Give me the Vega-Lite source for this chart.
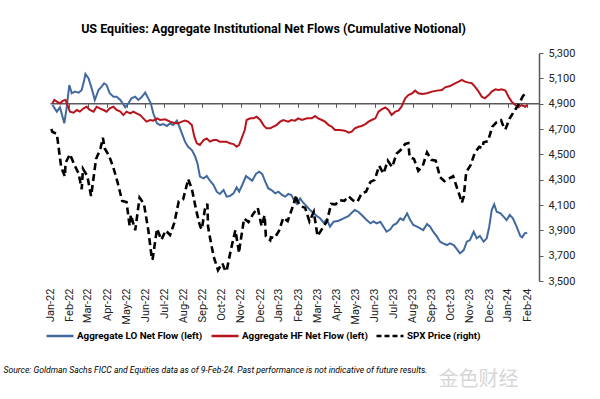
{
  "$schema": "https://vega.github.io/schema/vega-lite/v6.json",
  "width": 489,
  "height": 228,
  "autosize": {"type": "none"},
  "padding": {"left": 50, "top": 53, "right": 61, "bottom": 118},
  "background": "white",
  "config": {"view": {"stroke": null}},
  "title": {
    "text": "US Equities: Aggregate Institutional Net Flows (Cumulative Notional)",
    "font": "Roboto",
    "fontSize": 12.5,
    "fontWeight": "bold",
    "color": "#000000",
    "anchor": "middle",
    "dx": -21,
    "offset": 12
  },
  "resolve": {"scale": {"y": "independent"}, "axis": {"x": "independent", "y": "independent"}},
  "layer": [
    {
      "data": {"values": [
        {"day":4,"value":-1.1},{"day":11,"value":-6.3},{"day":16,"value":-2.9},{"day":23,"value":-15.5},{"day":27,"value":-2.4},{"day":31,"value":14.7},{"day":35,"value":8.2},{"day":40,"value":9.5},{"day":46,"value":8.7},{"day":51,"value":10.8},{"day":55,"value":18.7},{"day":57,"value":23.4},{"day":62,"value":20.0},{"day":67,"value":12.1},{"day":72,"value":2.9},{"day":78,"value":10.8},{"day":83,"value":13.4},{"day":87,"value":16.1},{"day":91,"value":14.7},{"day":96,"value":8.2},{"day":102,"value":5.5},{"day":107,"value":5.5},{"day":113,"value":2.9},{"day":116,"value":0.8},{"day":121,"value":-2.9},{"day":126,"value":0.3},{"day":131,"value":4.2},{"day":137,"value":5.5},{"day":142,"value":2.9},{"day":147,"value":5.0},{"day":153,"value":8.7},{"day":158,"value":4.2},{"day":162,"value":0.3},{"day":166,"value":-7.6},{"day":172,"value":-15.5},{"day":177,"value":-16.9},{"day":182,"value":-16.1},{"day":188,"value":-17.6},{"day":193,"value":-15.5},{"day":198,"value":-16.9},{"day":204,"value":-13.4},{"day":207,"value":-16.9},{"day":212,"value":-23.4},{"day":217,"value":-30.0},{"day":222,"value":-34.0},{"day":228,"value":-36.6},{"day":233,"value":-41.3},{"day":237,"value":-47.1},{"day":241,"value":-57.6},{"day":247,"value":-59.0},{"day":252,"value":-57.1},{"day":257,"value":-60.8},{"day":263,"value":-64.2},{"day":268,"value":-69.5},{"day":273,"value":-71.3},{"day":279,"value":-68.2},{"day":284,"value":-73.4},{"day":289,"value":-72.9},{"day":295,"value":-70.8},{"day":300,"value":-66.1},{"day":304,"value":-69.5},{"day":309,"value":-64.2},{"day":315,"value":-57.1},{"day":320,"value":-59.0},{"day":325,"value":-60.8},{"day":331,"value":-55.5},{"day":336,"value":-53.7},{"day":341,"value":-55.5},{"day":346,"value":-61.6},{"day":351,"value":-66.9},{"day":356,"value":-68.2},{"day":362,"value":-70.8},{"day":367,"value":-69.5},{"day":373,"value":-72.1},{"day":378,"value":-73.4},{"day":383,"value":-71.3},
        {"day":388,"value":-72.1},{"day":392,"value":-76.1},{"day":397,"value":-79.2},{"day":402,"value":-74.8},{"day":407,"value":-78.2},{"day":413,"value":-81.3},{"day":418,"value":-84.0},{"day":423,"value":-86.1},{"day":429,"value":-88.7},{"day":434,"value":-90.5},{"day":440,"value":-94.0},{"day":445,"value":-91.3},{"day":450,"value":-97.1},{"day":456,"value":-93.2},{"day":464,"value":-92.4},{"day":472,"value":-90.5},{"day":480,"value":-88.7},{"day":485,"value":-86.1},{"day":490,"value":-84.0},{"day":496,"value":-85.5},{"day":501,"value":-87.9},{"day":509,"value":-91.9},{"day":515,"value":-94.5},{"day":520,"value":-92.9},{"day":525,"value":-94.5},{"day":531,"value":-93.2},{"day":536,"value":-97.1},{"day":541,"value":-101.1},{"day":547,"value":-99.2},{"day":552,"value":-95.8},{"day":557,"value":-94.5},{"day":563,"value":-90.5},{"day":568,"value":-91.9},{"day":574,"value":-86.6},{"day":579,"value":-91.9},{"day":584,"value":-95.8},{"day":590,"value":-97.1},{"day":595,"value":-98.4},{"day":600,"value":-99.8},{"day":606,"value":-95.0},{"day":611,"value":-97.1},{"day":616,"value":-101.1},{"day":622,"value":-105.0},{"day":627,"value":-109.0},{"day":632,"value":-110.3},{"day":638,"value":-111.6},{"day":643,"value":-110.3},{"day":649,"value":-111.6},{"day":654,"value":-114.8},{"day":659,"value":-118.2},{"day":665,"value":-115.6},{"day":670,"value":-109.0},{"day":675,"value":-107.7},{"day":681,"value":-101.1},{"day":686,"value":-106.3},{"day":691,"value":-104.5},{"day":697,"value":-109.0},{"day":702,"value":-106.3},{"day":706,"value":-97.1},{"day":710,"value":-84.0},{"day":714,"value":-79.5},{"day":718,"value":-85.3},{"day":724,"value":-86.6},{"day":729,"value":-89.2},{"day":734,"value":-91.9},{"day":739,"value":-87.9},{"day":744,"value":-90.5},{"day":750,"value":-97.1},{"day":756,"value":-104.5},{"day":759,"value":-105.5},{"day":763,"value":-102.4},{"day":767,"value":-101.9}
      ]},
      "mark": {"type": "line", "strokeWidth": 2},
      "encoding": {
        "x": {"field": "day", "type": "quantitative", "scale": {"domain": [0, 786], "nice": false, "zero": false},
          "axis": {"orient": "top", "offset": -50.33, "values": [31,61,92,123,153,184,215,245,276,307,338,368,399,430,460,491,522,552,583,614,644,675,706,736,767], "labels": false, "domain": true, "domainColor": "#595959", "domainWidth": 1.5, "ticks": true, "tickColor": "#595959", "tickSize": -4, "tickWidth": 1, "grid": false, "title": null}},
        "y": {"field": "value", "type": "quantitative", "scale": {"domain": [-140, 40], "nice": false, "zero": false}, "axis": null},
        "color": {"datum": "Aggregate LO Net Flow (left)", "type": "nominal",
          "scale": {"domain": ["Aggregate LO Net Flow (left)", "Aggregate HF Net Flow (left)", "SPX Price (right)"], "range": ["#41699e", "#b8141c", "#000000"]},
          "legend": {"orient": "none", "legendX": -5, "legendY": 268, "direction": "horizontal", "title": null, "symbolType": "stroke", "symbolSize": 729, "symbolStrokeWidth": 2.5, "labelFont": "Roboto", "labelFontSize": 9.8, "labelFontWeight": "bold", "labelColor": "#000000", "labelOffset": 2, "columnPadding": 3, "labelLimit": 300,
            "encode": {"symbols": {"update": {"strokeDash": {"signal": "datum.value === 'SPX Price (right)' ? [5, 3] : [1, 0]"}}}}}}
      }
    },
    {
      "data": {"values": [
        {"day":4,"value":0.3},{"day":7,"value":2.9},{"day":11,"value":1.6},{"day":16,"value":0.3},{"day":21,"value":2.4},{"day":25,"value":2.9},{"day":28,"value":-1.1},{"day":32,"value":-6.3},{"day":38,"value":-7.1},{"day":43,"value":-5.0},{"day":48,"value":-6.3},{"day":54,"value":-3.7},{"day":59,"value":-2.4},{"day":64,"value":-5.0},{"day":70,"value":-6.3},{"day":75,"value":-2.4},{"day":80,"value":-3.7},{"day":86,"value":-5.0},{"day":91,"value":-6.3},{"day":96,"value":-3.7},{"day":102,"value":-2.4},{"day":107,"value":-5.0},{"day":113,"value":-6.3},{"day":118,"value":-9.0},{"day":123,"value":-6.3},{"day":129,"value":-7.6},{"day":134,"value":-6.3},{"day":139,"value":-7.6},{"day":145,"value":-9.0},{"day":150,"value":-11.6},{"day":155,"value":-14.2},{"day":161,"value":-12.9},{"day":166,"value":-13.4},{"day":172,"value":-11.6},{"day":177,"value":-12.9},{"day":185,"value":-12.4},{"day":193,"value":-14.2},{"day":201,"value":-15.5},{"day":206,"value":-15.5},{"day":212,"value":-14.2},{"day":217,"value":-13.4},{"day":222,"value":-14.2},{"day":228,"value":-16.9},{"day":232,"value":-26.1},{"day":236,"value":-31.3},{"day":241,"value":-32.6},{"day":247,"value":-28.7},{"day":252,"value":-27.4},{"day":257,"value":-30.0},{"day":263,"value":-28.7},{"day":268,"value":-28.7},{"day":273,"value":-30.0},{"day":279,"value":-30.0},{"day":284,"value":-30.0},{"day":289,"value":-31.3},{"day":295,"value":-31.9},{"day":300,"value":-34.0},{"day":304,"value":-32.6},{"day":308,"value":-27.4},{"day":313,"value":-20.8},{"day":316,"value":-12.9},{"day":322,"value":-11.6},{"day":327,"value":-11.6},{"day":332,"value":-10.3},{"day":338,"value":-12.9},{"day":343,"value":-16.9},{"day":348,"value":-19.5},{"day":354,"value":-19.5},{"day":359,"value":-18.2},{"day":364,"value":-16.9},{"day":370,"value":-14.2},{"day":375,"value":-12.9},{"day":383,"value":-14.2},
        {"day":388,"value":-12.9},{"day":394,"value":-13.4},{"day":399,"value":-11.6},{"day":405,"value":-12.9},{"day":413,"value":-11.6},{"day":421,"value":-11.6},{"day":426,"value":-9.7},{"day":431,"value":-11.6},{"day":437,"value":-12.9},{"day":442,"value":-14.2},{"day":448,"value":-16.9},{"day":453,"value":-18.2},{"day":458,"value":-20.8},{"day":466,"value":-20.8},{"day":474,"value":-21.3},{"day":480,"value":-22.9},{"day":485,"value":-22.1},{"day":490,"value":-19.5},{"day":496,"value":-18.2},{"day":501,"value":-17.6},{"day":507,"value":-16.1},{"day":512,"value":-14.2},{"day":517,"value":-12.9},{"day":523,"value":-11.6},{"day":528,"value":-6.3},{"day":533,"value":-4.5},{"day":539,"value":-2.9},{"day":544,"value":-5.0},{"day":549,"value":-9.0},{"day":555,"value":-6.3},{"day":560,"value":-5.5},{"day":565,"value":-2.4},{"day":571,"value":4.2},{"day":576,"value":6.8},{"day":582,"value":8.2},{"day":587,"value":10.3},{"day":592,"value":8.2},{"day":598,"value":7.6},{"day":606,"value":8.2},{"day":614,"value":9.5},{"day":622,"value":10.3},{"day":630,"value":10.8},{"day":635,"value":12.9},{"day":643,"value":13.9},{"day":651,"value":16.1},{"day":657,"value":17.4},{"day":662,"value":18.7},{"day":667,"value":17.4},{"day":673,"value":16.6},{"day":678,"value":16.1},{"day":683,"value":13.4},{"day":689,"value":9.5},{"day":694,"value":5.5},{"day":699,"value":4.2},{"day":705,"value":6.8},{"day":710,"value":9.5},{"day":716,"value":11.3},{"day":721,"value":10.8},{"day":726,"value":11.3},{"day":732,"value":10.3},{"day":737,"value":5.5},{"day":742,"value":1.6},{"day":748,"value":-1.1},{"day":753,"value":-2.9},{"day":758,"value":-1.1},{"day":764,"value":-2.4},{"day":767,"value":-1.1}
      ]},
      "mark": {"type": "line", "strokeWidth": 2},
      "encoding": {
        "x": {"field": "day", "type": "quantitative", "scale": {"domain": [0, 786], "nice": false, "zero": false}, "axis": null},
        "y": {"field": "value", "type": "quantitative", "scale": {"domain": [-140, 40], "nice": false, "zero": false}, "axis": null},
        "color": {"datum": "Aggregate HF Net Flow (left)", "type": "nominal",
          "scale": {"domain": ["Aggregate LO Net Flow (left)", "Aggregate HF Net Flow (left)", "SPX Price (right)"], "range": ["#41699e", "#b8141c", "#000000"]}}
      }
    },
    {
      "data": {"values": [
        {"day":2,"value":4700},{"day":4,"value":4677},{"day":11,"value":4662},{"day":18,"value":4398},{"day":24,"value":4326},{"day":25,"value":4432},{"day":32,"value":4501},{"day":39,"value":4419},{"day":46,"value":4349},{"day":51,"value":4225},{"day":53,"value":4385},{"day":60,"value":4329},{"day":66,"value":4171},{"day":67,"value":4204},{"day":74,"value":4463},{"day":81,"value":4543},{"day":85,"value":4631},{"day":88,"value":4546},{"day":95,"value":4488},{"day":102,"value":4393},{"day":109,"value":4272},{"day":116,"value":4132},{"day":123,"value":4123},{"day":128,"value":3935},{"day":130,"value":4023},{"day":137,"value":3901},{"day":144,"value":4158},{"day":151,"value":4109},{"day":158,"value":3901},{"day":164,"value":3667},{"day":165,"value":3675},{"day":172,"value":3912},{"day":179,"value":3825},{"day":186,"value":3899},{"day":193,"value":3863},{"day":200,"value":3962},{"day":207,"value":4130},{"day":214,"value":4145},{"day":221,"value":4280},{"day":222,"value":4305},{"day":228,"value":4228},{"day":235,"value":4058},{"day":240,"value":3955},{"day":242,"value":3924},{"day":244,"value":3908},{"day":249,"value":4067},{"day":253,"value":4110},{"day":254,"value":3932},{"day":256,"value":3873},{"day":263,"value":3693},{"day":270,"value":3586},{"day":277,"value":3640},{"day":282,"value":3577},{"day":284,"value":3583},{"day":291,"value":3753},{"day":298,"value":3901},{"day":304,"value":3720},{"day":305,"value":3771},{"day":312,"value":3993},{"day":319,"value":3965},{"day":326,"value":4026},{"day":333,"value":4072},{"day":334,"value":4077},{"day":340,"value":3934},{"day":345,"value":4019},{"day":347,"value":3852},{"day":354,"value":3822},{"day":355,"value":3845},{"day":361,"value":3840},{"day":368,"value":3895},{"day":375,"value":3999},{"day":382,"value":3973},{"day":389,"value":4071},{"day":396,"value":4179},{"day":397,"value":4136},{"day":403,"value":4090},{"day":410,"value":4079},{"day":417,"value":3970},{"day":424,"value":4046},{"day":430,"value":3855},{"day":431,"value":3862},{"day":438,"value":3917},{"day":445,"value":3971},{"day":452,"value":4109},{"day":459,"value":4105},{"day":466,"value":4138},{"day":473,"value":4133},{"day":480,"value":4169},{"day":487,"value":4136},{"day":494,"value":4124},{"day":501,"value":4192},{"day":508,"value":4205},{"day":515,"value":4282},{"day":522,"value":4299},{"day":529,"value":4410},{"day":536,"value":4348},{"day":543,"value":4450},{"day":550,"value":4399},{"day":557,"value":4505},{"day":564,"value":4536},{"day":571,"value":4582},{"day":576,"value":4589},{"day":578,"value":4478},{"day":585,"value":4464},{"day":592,"value":4370},{"day":599,"value":4406},{"day":606,"value":4515},{"day":613,"value":4457},{"day":620,"value":4450},{"day":627,"value":4320},{"day":634,"value":4288},{"day":641,"value":4308},{"day":648,"value":4327},{"day":655,"value":4224},{"day":661,"value":4137},{"day":662,"value":4117},{"day":665,"value":4166},{"day":669,"value":4358},{"day":676,"value":4415},{"day":683,"value":4514},{"day":690,"value":4559},{"day":695,"value":4550},{"day":697,"value":4595},{"day":704,"value":4604},{"day":711,"value":4719},{"day":718,"value":4755},{"day":725,"value":4770},{"day":730,"value":4705},{"day":732,"value":4697},{"day":739,"value":4784},{"day":746,"value":4840},{"day":753,"value":4891},{"day":760,"value":4959},{"day":767,"value":4997}
      ]},
      "mark": {"type": "line", "strokeWidth": 2.6, "strokeDash": [7, 4]},
      "encoding": {
        "x": {"field": "day", "type": "quantitative", "scale": {"domain": [0, 786], "nice": false, "zero": false},
          "axis": {"orient": "bottom", "values": [0,31,61,92,123,153,184,215,245,276,307,338,368,399,430,460,491,522,552,583,614,644,675,706,736,767],
            "labelExpr": "timeFormat(datetime(2022, 0, 3 + datum.value), '%b-%y')",
            "labelAngle": -90, "labelFlush": false, "labelOverlap": false, "labelFont": "Roboto", "labelFontSize": 11, "labelColor": "#222222", "labelPadding": 7,
            "domain": false, "ticks": false, "grid": false,
            "title": "Source: Goldman Sachs FICC and Equities data as of 9-Feb-24. Past performance is not indicative of future results.",
            "titleFont": "Roboto", "titleFontStyle": "italic", "titleFontWeight": "normal", "titleFontSize": 8.6, "titleColor": "#000000",
            "titleX": -47, "titleY": 88, "titleAlign": "left", "titleAnchor": "start", "titleBaseline": "middle"}},
        "y": {"field": "value", "type": "quantitative", "scale": {"domain": [3500, 5300], "nice": false, "zero": false},
          "axis": {"orient": "right", "values": [3500,3700,3900,4100,4300,4500,4700,4900,5100,5300], "labelExpr": "format(datum.value, ',')", "labelFont": "Roboto", "labelFontSize": 11, "labelColor": "#222222", "labelPadding": 5,
            "domain": true, "domainColor": "#595959", "domainWidth": 1.5, "ticks": true, "tickColor": "#595959", "tickSize": 4, "grid": false,
            "title": "金色财经", "titleAngle": 0, "titleX": -61, "titleY": 326, "titleFont": "Noto Sans CJK SC", "titleFontSize": 20, "titleFontWeight": "normal", "titleColor": "#d6d6d6", "titleAlign": "center", "titleBaseline": "middle"}},
        "color": {"datum": "SPX Price (right)", "type": "nominal",
          "scale": {"domain": ["Aggregate LO Net Flow (left)", "Aggregate HF Net Flow (left)", "SPX Price (right)"], "range": ["#41699e", "#b8141c", "#000000"]}}
      }
    }
  ]
}
